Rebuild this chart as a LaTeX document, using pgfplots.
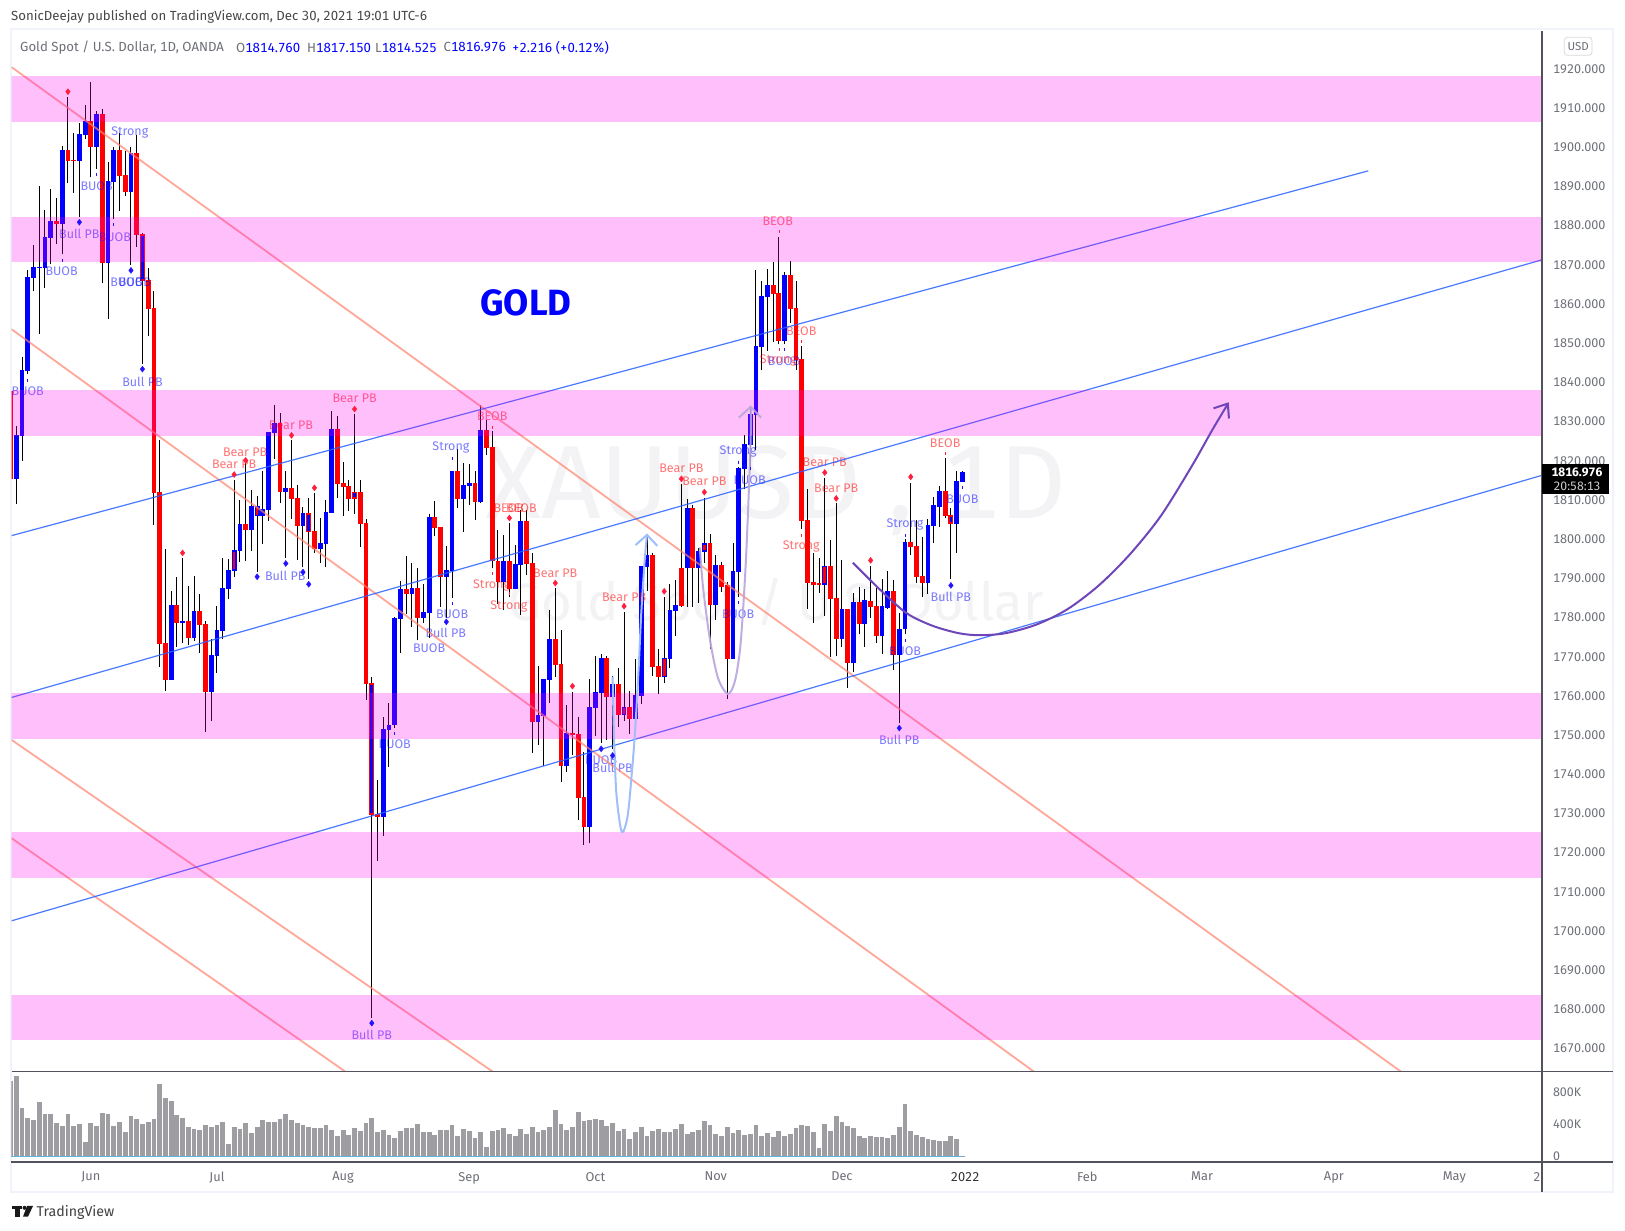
\documentclass[border=0pt]{standalone}
\usepackage{fontspec}
\setmainfont{Fira Sans}[Numbers=Monospaced]
\usepackage{pgfplots}
\usepackage{pgfplotstable}
\pgfplotsset{compat=1.18}

\definecolor{tvup}{RGB}{0,0,255}
\definecolor{tvdn}{RGB}{255,0,0}
\definecolor{tvline}{RGB}{80,83,94}
\definecolor{tvframe}{RGB}{240,243,250}
\definecolor{tvtext}{RGB}{110,112,120}
\definecolor{zone}{RGB}{255,0,240}
\definecolor{chanblue}{RGB}{41,98,255}
\definecolor{chanred}{RGB}{255,130,110}
\definecolor{volbar}{RGB}{158,158,162}
\definecolor{volbase}{RGB}{90,180,225}
\definecolor{wmark}{RGB}{243,243,245}
\definecolor{diamr}{RGB}{255,30,60}
\definecolor{diamb}{RGB}{35,20,255}
\definecolor{arcblue}{RGB}{160,190,250}
\definecolor{arcviolet}{RGB}{185,165,220}
\definecolor{bigarrow}{RGB}{110,70,185}

% i bottom top low high
\pgfplotstableread{
i b t l h
0 1815.2 1826.4 1808.8 1828.7
1 1826.1 1843 1819.8 1846.2
2 1842.7 1866.7 1842 1868.5
3 1866.5 1869.2 1863.2 1874.8
4 1869 1869.3 1852.2 1890
5 1869 1876.9 1863.9 1883.8
6 1876.7 1880.9 1870 1889.2
8 1880.3 1899.1 1872.6 1900.2
11 1896.3 1903.2 1882 1906
12 1903 1906.5 1902 1910.6
14 1899.9 1908.3 1894.3 1909.1
16 1870.3 1891.2 1856 1896.1
17 1891 1899.1 1881.5 1900
20 1888.4 1898.4 1869.8 1899.8
27 1763.9 1783 1763.9 1786.6
29 1778.4 1778.9 1773.3 1794.9
31 1774.6 1781.5 1773.8 1790.4
34 1760.8 1770.3 1753.4 1774.3
35 1770 1776.6 1765.7 1782.8
36 1776.4 1787.3 1774.3 1795
37 1787.1 1791.9 1784.5 1794.8
38 1791.7 1797 1790.1 1814.9
39 1796.8 1803.7 1794 1809.8
41 1802.1 1808.3 1796.8 1812.4
42 1805.7 1808.3 1791.4 1810.8
43 1805.7 1807.5 1798.6 1817.2
44 1807.3 1827.2 1804.4 1827.2
45 1826.9 1829.5 1820.3 1834
47 1811.9 1812.9 1795 1817.2
50 1803.2 1806.5 1792.7 1808
53 1797.3 1798.8 1793.7 1805.2
54 1798.6 1806.7 1792.7 1809.8
55 1806.5 1827.9 1806.5 1832.5
64 1729 1751.4 1724.1 1754.4
65 1751.1 1752.5 1741.7 1758
66 1752.4 1779.7 1751.6 1780
67 1779.4 1787.1 1770.8 1789.1
69 1785.8 1787.4 1777.4 1793.7
71 1779.7 1781.2 1778.4 1788.4
72 1781 1805.5 1774.6 1806.2
75 1790.2 1791.9 1779.7 1798.1
76 1791.7 1817.2 1784.8 1817.2
78 1810.1 1813.6 1801.6 1819.2
79 1813.4 1814.1 1808.5 1819
81 1809.3 1827.7 1809 1834
85 1788.9 1794.2 1781.7 1800.9
87 1787.1 1793.5 1787.1 1798.3
88 1793.2 1804.4 1780.5 1807.2
91 1753.1 1754.9 1747.3 1767.4
92 1754.7 1764.1 1742 1764.1
93 1763.9 1774.3 1758 1781.7
96 1741.9 1750.3 1740.4 1757.5
100 1726.3 1757 1722.2 1764.1
101 1756.7 1760.8 1749.6 1770
102 1760.6 1769.5 1747.8 1770.5
104 1759.5 1762.8 1746.3 1764.9
106 1754.9 1757 1753.4 1781.2
108 1753.9 1760 1750.9 1769.2
109 1759.8 1793 1757.7 1793
110 1792.7 1795.8 1786.6 1800.9
113 1764.6 1769.5 1763 1785
114 1769.3 1781.8 1766.9 1788.4
115 1781.6 1783 1775 1789.4
117 1792.4 1807.8 1782.6 1810
119 1792.4 1796.8 1783.6 1797.5
120 1796.6 1798.8 1793.7 1810.3
122 1783 1793.2 1779.2 1795.7
125 1769.2 1791.7 1769.2 1798.8
126 1791.5 1817.9 1785 1818.3
127 1817.7 1824 1812.5 1826.3
128 1823.9 1831.8 1818.3 1833
129 1831.5 1849.1 1822.5 1868.4
130 1848.8 1861.9 1842.9 1865.8
131 1861.7 1864.7 1847.8 1868.7
134 1850.4 1867.1 1849.5 1868
141 1788.2 1793 1780.3 1815.3
144 1774.4 1782 1772.4 1794.6
146 1768.1 1783.8 1766 1786.1
148 1778.2 1784.2 1772.4 1787.2
151 1775.1 1782.8 1770.5 1789.6
152 1782.3 1786.6 1782 1791.7
154 1770.3 1777 1752.8 1781
155 1776.9 1799 1775.5 1799.9
159 1788.7 1803.4 1785.8 1804.9
160 1803.2 1808.4 1798.9 1810.6
161 1808 1812.1 1803 1813.5
164 1803.7 1814.7 1796.4 1817.2
165 1814.4 1817 1814.4 1817.15
}\upbars

\pgfplotstableread{
i b t l h
-1 1815.2 1837.5 1813.4 1843.4
7 1880.3 1880.9 1875.1 1886.9
9 1896.3 1899.1 1890.7 1912.7
10 1896.3 1896.6 1888.2 1903.5
13 1899.9 1906.5 1892.2 1916.5
15 1870.3 1908.3 1865.2 1909.6
18 1892.5 1899.1 1883.6 1903.5
19 1888.4 1892.8 1887.4 1898.9
21 1877.5 1898.4 1874.4 1903
22 1865.7 1877.7 1844.5 1878
23 1858.6 1866 1851.7 1869
24 1811.6 1858.8 1803.4 1863.1
25 1773.1 1811.9 1767.2 1825.1
26 1763.9 1773.3 1761.1 1797.3
28 1778.4 1783 1772.3 1790.1
30 1774.6 1778.9 1772.8 1787.9
32 1777.9 1781.5 1770.8 1785.8
33 1760.8 1778.2 1750.6 1778.9
40 1802.1 1803.7 1794.2 1819.2
46 1811.9 1829.5 1809 1832
48 1810.1 1812.9 1804.9 1825
49 1803.2 1810.3 1794.5 1813.6
51 1801.6 1806.5 1789.6 1810.3
52 1797.3 1801.9 1796.3 1811.6
56 1813.9 1827.9 1810.3 1831.2
57 1813.1 1814.1 1805.7 1819.5
58 1810.1 1813.4 1807 1814.9
59 1810.1 1811.9 1806.2 1831.8
60 1803.7 1811.9 1797.8 1814.9
61 1762.8 1803.9 1758.8 1805
62 1729.4 1763 1677.7 1764.6
63 1729 1729.6 1717.7 1738.3
68 1785.8 1787.1 1780.7 1795.5
70 1779.7 1787.4 1774 1792.4
73 1802.7 1805.5 1800.6 1809.5
74 1790.2 1802.9 1782.5 1802.9
77 1810.1 1817.2 1807.8 1822.8
80 1809.3 1814.1 1804.7 1817.2
82 1823.1 1827.7 1821.3 1830.2
83 1794.2 1823.3 1792.5 1827.4
84 1788.9 1794.2 1783.3 1802.2
86 1787.1 1794.2 1785 1803.9
89 1793.5 1804.4 1790.7 1807.2
90 1753.1 1793.7 1745.2 1796.3
94 1767.7 1774.3 1764.6 1787.3
95 1741.9 1767.9 1737.8 1776.6
97 1749.8 1750.3 1744.7 1760.8
98 1733.8 1750.1 1728.1 1754.4
99 1726.3 1734 1721.8 1745.5
103 1759.5 1769.5 1748.6 1770
105 1754.9 1762.8 1751.9 1766.9
107 1753.9 1757 1750.1 1761.1
111 1767.2 1795.8 1764.9 1796.3
112 1764.6 1767.4 1760.3 1771.9
116 1782.8 1792.4 1782.5 1813.8
118 1792.4 1807.8 1782.6 1808.4
121 1783 1798.8 1771.8 1801.1
123 1787.6 1793.2 1786.3 1794
124 1769.2 1788 1758.9 1789
132 1862.4 1864.7 1850 1870.5
133 1850.4 1862.6 1849.5 1877
135 1858.6 1867.1 1855 1870.8
136 1845.6 1858.8 1843 1865.8
137 1804.5 1845.8 1802.3 1849.1
138 1788.7 1804.7 1782 1812.5
139 1788.2 1788.9 1778.5 1796.4
140 1788.1 1788.5 1786.1 1795.1
142 1784.5 1793 1769.8 1799.5
143 1774.4 1784.8 1770 1809
145 1768.1 1782 1761.8 1782
147 1778.2 1783.8 1775.5 1787.6
149 1782.5 1784.1 1779.7 1792.9
150 1775.1 1782.8 1773.3 1787.3
153 1770.3 1786.6 1766.5 1789.3
156 1797.9 1799 1795.8 1814.2
157 1790.2 1798 1788.5 1804.7
158 1788.7 1790.4 1785 1800.3
162 1805.7 1812.1 1805.2 1820.4
163 1803.7 1805.9 1789.6 1807.8
}\dnbars

% candles with a border in the other colour: the inner part
\pgfplotstableread{
i b t
38 1792.1 1796.6
42 1806.1 1807.9
106 1755.3 1756.6
113 1765 1769.1
120 1797 1798.4
141 1788.6 1792.6
}\innerred
\pgfplotstableread{
i b t
22 1866.1 1877.3
51 1802 1806.1
59 1810.5 1811.5
62 1729.8 1762.6
163 1804.1 1805.5
}\innerblue

\newcommand{\bl}[3]{\node[text=tvup,text opacity=.52,font=\fontsize{12.5}{12.5}\selectfont,inner sep=0pt] at (axis cs:#1,#2) {#3};}
\newcommand{\rd}[3]{\node[text=tvdn,text opacity=.55,font=\fontsize{12.5}{12.5}\selectfont,inner sep=0pt] at (axis cs:#1,#2) {#3};}

\begin{document}
\begin{tikzpicture}[x=1pt,y=1pt]
\fill[white] (0,0) rectangle (1625,1231);
\useasboundingbox (0,0) rectangle (1625,1231);
\draw[tvframe,line width=2pt] (10.5,1201.5) rectangle (1613,39.3);

% price pane
\begin{axis}[
	at={(11.5pt,159.3pt)},anchor=south west,
	scale only axis,width=1530.5pt,height=1040.7pt,
	xmin=-0.84,xmax=266.1,ymin=1663.9,ymax=1929.5,
	axis x line=none,axis y line*=right,
	axis line style={draw=tvline,line width=1.2pt},
	major tick length=0pt,
	ytick={1670,1680,...,1920},
	yticklabel style={anchor=west,xshift=7.5pt,yshift=-.7pt,text=tvtext,font=\fontsize{12.6}{14}\selectfont,
		/pgf/number format/fixed,/pgf/number format/fixed zerofill,/pgf/number format/precision=3,
		/pgf/number format/1000 sep={},/pgf/number format/assume math mode=true},
	clip=true]

% watermark
\node[text=wmark,font=\fontsize{104}{104}\selectfont] at (axis cs:132.5,1812.2) {XAUUSD , 1D};
\node[text=wmark,font=\fontsize{52.5}{53}\selectfont] at (axis cs:132.5,1783) {Gold Spot / U.S. Dollar};

% wicks
\addplot[forget plot,draw=none,error bars/.cd,y dir=plus,y explicit,error mark=none,
	error bar style={solid,draw=black,line width=1pt}]
	table[x=i,y=l,y error plus expr=\thisrow{h}-\thisrow{l}] {\upbars};
\addplot[forget plot,draw=none,error bars/.cd,y dir=plus,y explicit,error mark=none,
	error bar style={solid,draw=black,line width=1pt}]
	table[x=i,y=l,y error plus expr=\thisrow{h}-\thisrow{l}] {\dnbars};
% bodies
\addplot[forget plot,draw=none,error bars/.cd,y dir=plus,y explicit,error mark=none,
	error bar style={solid,draw=tvup,line width=4.8pt}]
	table[x=i,y=b,y error plus expr=\thisrow{t}-\thisrow{b}] {\upbars};
\addplot[forget plot,draw=none,error bars/.cd,y dir=plus,y explicit,error mark=none,
	error bar style={solid,draw=tvdn,line width=4.8pt}]
	table[x=i,y=b,y error plus expr=\thisrow{t}-\thisrow{b}] {\dnbars};
\addplot[forget plot,draw=none,error bars/.cd,y dir=plus,y explicit,error mark=none,
	error bar style={solid,draw=tvdn,line width=2.6pt}]
	table[x=i,y=b,y error plus expr=\thisrow{t}-\thisrow{b}] {\innerred};
\addplot[forget plot,draw=none,error bars/.cd,y dir=plus,y explicit,error mark=none,
	error bar style={solid,draw=tvup,line width=2.6pt}]
	table[x=i,y=b,y error plus expr=\thisrow{t}-\thisrow{b}] {\innerblue};

% signal marks
\addplot[forget plot,only marks,mark=diamond*,mark size=3pt,mark options={draw=diamr,fill=diamr}] coordinates {
	(9,1914) (29,1796.3) (38,1816.3) (40,1819.9) (48,1826.3) (52,1812.9) (59,1833)
	(86,1805.2) (94,1788.6) (97,1762.3) (106,1782.7) (113,1786.5) (116,1815.2) (120,1811.8)
	(141,1816.8) (143,1810.2) (149,1794.4) (156,1815.7)};
\addplot[forget plot,only marks,mark=diamond*,mark size=3pt,mark options={draw=diamb,fill=diamb}] coordinates {
	(11,1880.7) (20,1868.4) (22,1843.2) (42,1790.2) (47,1793.6) (50,1791.4) (51,1788.3)
	(62,1676.3) (75,1778.7) (102,1746.3) (104,1744.6) (154,1751.6) (163,1788)};
\addplot[forget plot,only marks,mark=|,mark size=1.5pt,mark options={draw=diamb,line width=.7pt}] coordinates {
	(2,1840.4) (8,1871) (14,1892.8) (17,1880) (66,1750.1) (76,1820.5) (76,1783.3)
	(126,1819.5) (128,1817.9) (126,1783.6) (134,1848.1) (155,1774) (155,1800.8) (165,1813)};
\addplot[forget plot,only marks,mark=|,mark size=1.5pt,mark options={draw=diamr,line width=.7pt}] coordinates {
	(83,1828.4) (83,1791) (86,1786) (133,1878.2) (133,1848.1) (137,1850.3) (137,1800.8) (162,1821.6)};

% labels
\bl{2}{1837.5}{BUOB} \bl{7.9}{1868.3}{BUOB} \bl{11}{1877.6}{Bull PB} \bl{14}{1890}{BUOB}
\bl{19.8}{1903.6}{Strong} \bl{17.2}{1877}{BUOB} \bl{19.2}{1865.5}{BUOB} \bl{20.7}{1865.5}{BUOB}
\bl{22}{1840}{Bull PB} \bl{46.9}{1790.5}{Bull PB} \bl{66}{1747.4}{BUOB} \bl{75.8}{1823.2}{Strong}
\bl{76}{1780.6}{BUOB} \bl{74.9}{1775.8}{Bull PB} \bl{72}{1772.1}{BUOB} \bl{102}{1743.4}{BUOB}
\bl{104}{1741.5}{Bull PB} \bl{62}{1673.2}{Bull PB} \bl{133.9}{1845.3}{BUOB} \bl{125.9}{1822.1}{Strong}
\bl{127.9}{1814.8}{BUOB} \bl{125.9}{1780.6}{BUOB} \bl{155}{1803.6}{Strong} \bl{165}{1810}{BUOB}
\bl{163}{1785}{Bull PB} \bl{155}{1771.2}{BUOB} \bl{154}{1748.5}{Bull PB}
\rd{39.9}{1822.1}{Bear PB} \rd{38}{1818.8}{Bear PB} \rd{47.9}{1829}{Bear PB} \rd{59}{1835.7}{Bear PB}
\rd{83}{1831.3}{BEOB} \rd{85.9}{1807.7}{BEOB} \rd{88.1}{1807.7}{BEOB} \rd{82.9}{1787.9}{Strong}
\rd{85.9}{1782.6}{Strong} \rd{94}{1791}{Bear PB} \rd{106}{1785.1}{Bear PB} \rd{116}{1817.8}{Bear PB}
\rd{120}{1814.5}{Bear PB} \rd{132.8}{1880.9}{BEOB} \rd{136.9}{1853}{BEOB} \rd{132.9}{1845.3}{Strong}
\rd{141}{1819.4}{Bear PB} \rd{143}{1812.7}{Bear PB} \rd{136.9}{1798}{Strong} \rd{162}{1824.2}{BEOB}

% channel lines
\addplot[forget plot,chanred,line width=1.8pt,opacity=.7] coordinates {(-0.85,1920.3) (241.5,1663.9)};
\addplot[forget plot,chanred,line width=1.8pt,opacity=.7] coordinates {(-0.85,1853.4) (177.5,1663.9)};
\addplot[forget plot,chanred,line width=1.8pt,opacity=.7] coordinates {(-0.85,1748.6) (83.1,1663.9)};
\addplot[forget plot,chanred,line width=1.8pt,opacity=.7] coordinates {(-0.85,1723.5) (57.4,1663.9)};
\addplot[forget plot,chanblue,line width=1.2pt,opacity=.85] coordinates {(-0.85,1800.7) (235.8,1893.8)};
\addplot[forget plot,chanblue,line width=1.2pt,opacity=.85] coordinates {(-0.85,1759.4) (266.1,1871.1)};
\addplot[forget plot,chanblue,line width=1.2pt,opacity=.85] coordinates {(-0.85,1702.4) (266.1,1816.1)};

% zones
\addplot[forget plot,draw=none,fill=zone,fill opacity=.25] coordinates {(-2,1918) (268,1918) (268,1906.3) (-2,1906.3)} --cycle;
\addplot[forget plot,draw=none,fill=zone,fill opacity=.25] coordinates {(-2,1882) (268,1882) (268,1870.6) (-2,1870.6)} --cycle;
\addplot[forget plot,draw=none,fill=zone,fill opacity=.25] coordinates {(-2,1837.9) (268,1837.9) (268,1826.1) (-2,1826.1)} --cycle;
\addplot[forget plot,draw=none,fill=zone,fill opacity=.25] coordinates {(-2,1760.6) (268,1760.6) (268,1748.8) (-2,1748.8)} --cycle;
\addplot[forget plot,draw=none,fill=zone,fill opacity=.25] coordinates {(-2,1725) (268,1725) (268,1713.4) (-2,1713.4)} --cycle;
\addplot[forget plot,draw=none,fill=zone,fill opacity=.25] coordinates {(-2,1683.5) (268,1683.5) (268,1672.1) (-2,1672.1)} --cycle;

% drawn curves
\addplot[forget plot,smooth,color=arcblue,line width=2pt] coordinates {
	(104,1764.7) (104.3,1746.9) (104.7,1734.1) (105.6,1725.1) (106.6,1729) (107.3,1739.2)
	(107.9,1750.3) (108.5,1765.6) (109,1780.9) (109.6,1794.5) (110,1800.9)};
\addplot[forget plot,color=arcblue,line width=2pt] coordinates {(108,1798.3) (110,1800.9) (111.8,1798.1)};
\addplot[forget plot,smooth,color=arcviolet,line width=2pt,opacity=.9] coordinates {
	(119.2,1797.7) (119.8,1787.2) (121,1774) (122.4,1764.3) (124.1,1760.3) (125.3,1763.4)
	(126.2,1771.3) (126.8,1782.8) (127.3,1795.9) (127.8,1813.5) (128.1,1826.7) (128.1,1833.6)};
\addplot[forget plot,color=arcviolet,line width=2pt,opacity=.9] coordinates {(126,1830.8) (128.1,1833.6) (129.9,1830.8)};
\addplot[forget plot,smooth,color=bigarrow,line width=2pt] coordinates {
	(145.9,1793.8) (150.8,1786.7) (155.3,1780.9) (159.8,1777.7) (164.4,1775.8) (168,1775.3)
	(172.5,1775.8) (177.9,1778) (183.3,1781.9) (188.8,1788) (194.2,1795.9) (199.6,1805.7)
	(205,1818.4) (208.6,1827.7) (211.3,1834.3)};
\addplot[forget plot,color=bigarrow,line width=2pt] coordinates {(208.8,1833.2) (211.3,1834.4) (211.5,1830.6)};

\node[text=tvup,font=\bfseries\fontsize{36.5}{36.5}\selectfont] at (axis cs:88.9,1860) {GOLD};
\end{axis}

% volume pane
\begin{axis}[
	at={(11.5pt,69pt)},anchor=south west,
	scale only axis,width=1530.5pt,height=90.3pt,
	xmin=-0.84,xmax=266.1,ymin=-65.7,ymax=1054,
	axis x line*=bottom,axis y line*=right,
	axis line style={draw=tvline,line width=1.2pt},
	major tick length=0pt,
	ytick={0,400,800},yticklabels={0,400K,800K},
	yticklabel style={anchor=west,xshift=7.5pt,text=tvtext,font=\fontsize{12.4}{13}\selectfont},
	xtick={13,35,57,79,101,122,144,165.5,186.8,206.8,229.8,250.8,265.2},
	xticklabels={Jun,Jul,Aug,Sep,Oct,Nov,Dec,\textcolor{black!80}{2022},Feb,Mar,Apr,May,2},
	xticklabel style={yshift=-6.5pt,text=tvtext,font=\fontsize{12.8}{13}\selectfont},
	clip=true]
\addplot[forget plot,ycomb,volbar,line width=4.8pt] coordinates {
(-1,934)(0,997)(1,600)(2,476)(3,451)(4,674)(5,525)(6,525)(7,414)(8,376)(9,525)(10,376)(11,401)
(12,178)(13,414)(14,376)(15,538)(16,525)(17,376)(18,426)(19,302)(20,500)(21,463)(22,401)(23,426)
(24,463)(25,897)(26,724)(27,686)(28,513)(29,476)(30,364)(31,339)(32,327)(33,389)(34,364)(35,389)
(36,426)(37,153)(38,364)(39,339)(40,414)(41,289)(42,364)(43,451)(44,426)(45,426)(46,463)(47,525)
(48,451)(49,414)(50,389)(51,364)(52,351)(53,351)(54,389)(55,327)(56,252)(57,327)(58,265)(59,351)
(60,314)(61,414)(62,476)(63,302)(64,327)(65,265)(66,227)(67,314)(68,351)(69,351)(70,401)(71,302)
(72,302)(73,265)(74,327)(75,327)(76,389)(77,252)(78,339)(79,314)(80,227)(81,302)(82,116)(83,314)
(84,327)(85,351)(86,277)(87,252)(88,339)(89,277)(90,364)(91,302)(92,327)(93,364)(94,575)(95,401)
(96,327)(97,364)(98,550)(99,438)(100,451)(101,463)(102,451)(103,376)(104,414)(105,314)(106,339)
(107,215)(108,302)(109,364)(110,252)(111,314)(112,339)(113,302)(114,302)(115,339)(116,401)(117,277)
(118,302)(119,327)(120,438)(121,389)(122,277)(123,252)(124,364)(125,289)(126,327)(127,265)(128,277)
(129,389)(130,252)(131,289)(132,240)(133,314)(134,252)(135,277)(136,351)(137,389)(138,376)(139,302)
(140,103)(141,401)(142,314)(143,500)(144,426)(145,376)(146,351)(147,252)(148,227)(149,252)(150,240)
(151,240)(152,227)(153,265)(154,364)(155,649)(156,314)(157,265)(158,240)(159,215)(160,203)(161,190)
(162,190)(163,252)(164,215)(165,4)};
\addplot[forget plot,volbase,line width=1.5pt] coordinates {(-1,0) (165,0)};
\end{axis}

% chrome
\draw[tvline,line width=1.2pt] (1542,39.3) -- (1542,1200);
\draw[tvline,line width=1.2pt] (11.5,159.3) -- (1613,159.3);
\draw[tvline,line width=1.2pt] (1542,69) -- (1613,69);

\node[anchor=west,inner sep=0pt,text=black!72,font=\fontsize{13.2}{14}\selectfont] at (11,1214.5)
	{SonicDeejay published on TradingView.com, Dec 30, 2021 19:01 UTC-6};
\begin{scope}[every node/.style={anchor=west,inner sep=0pt,text=tvtext,font=\fontsize{13.2}{14}\selectfont}]
\node at (20,1183.5) {Gold Spot / U.S. Dollar, 1D, OANDA};
\node at (236,1183.5) {O\textcolor{tvup}{1814.760}};
\node at (307,1183.5) {H\textcolor{tvup}{1817.150}};
\node at (375,1183.5) {L\textcolor{tvup}{1814.525}};
\node at (443.5,1183.5) {C\textcolor{tvup}{1816.976}};
\node at (512,1183.5) {\textcolor{tvup}{+2.216 (+0.12\%)}};
\end{scope}

\draw[black!15,rounded corners=3pt,line width=.8pt] (1564.3,1193.7) rectangle (1592,1175.7);
\node[text=tvtext,font=\fontsize{11.5}{12}\selectfont] at (1578.2,1184.7) {USD};

\fill[black] (1542,767) rectangle (1609,737);
\node[text=white,font=\bfseries\fontsize{12.2}{13}\selectfont] at (1577,759) {1816.976};
\node[text=black!20,font=\fontsize{12.2}{13}\selectfont] at (1577,744.5) {20:58:13};

% logo
\fill[black!90] (11.5,25) rectangle (22,21.5);
\fill[black!90] (15,25) rectangle (20,14.3);
\fill[black!90] (24.5,23.2) circle (2pt);
\fill[black!90] (27,25) -- (33,25) -- (28,14.3) -- (23,14.3) -- cycle;
\node[anchor=west,inner sep=0pt,text=black!75,font=\fontsize{14.2}{15}\selectfont] at (36.5,18.5) {TradingView};
\end{tikzpicture}
\end{document}
